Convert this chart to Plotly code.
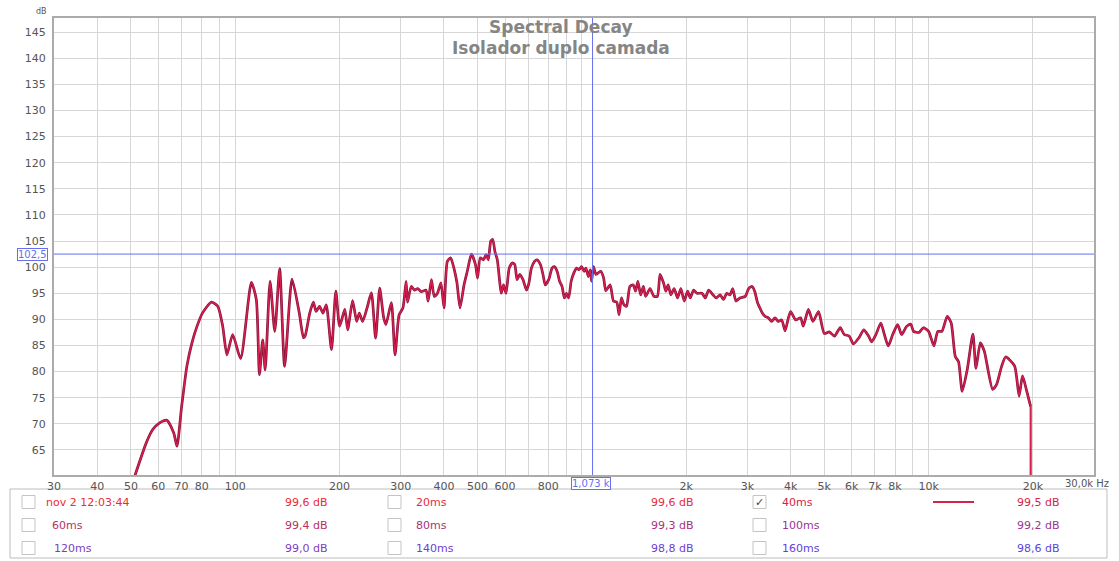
import math
import plotly.graph_objects as go

# ---------------- data ----------------
freq_hz = [
    51, 55.4, 57.8, 60.5, 63.5, 66.5, 67.9, 70, 72.5, 75,
    77.5, 80.4, 85.4, 89, 92, 94.6, 98.3, 103.6, 111.3, 115,
    117.4, 120, 122, 126, 130, 134.3, 138.8, 145.8, 153, 157.3,
    159, 164, 168, 171, 175, 179, 183, 189.5, 195, 200,
    207, 211, 218, 224, 228, 233, 240, 247, 254, 261,
    268, 272, 282, 289, 297, 304.6, 311, 314, 321.8, 329,
    336, 344, 355, 360, 368, 375, 383, 392, 400, 409,
    418, 427, 436, 445, 457, 467, 480, 493, 500, 509,
    520, 529, 537, 546, 553, 561, 570, 579, 585, 594,
    604, 617, 630, 640, 650, 662, 676, 692, 703, 715,
    730, 742, 759, 772, 784, 802, 820, 833, 848, 862,
    876, 890, 902, 916, 931, 948, 965, 980, 997, 1015,
    1027, 1043, 1057, 1066, 1080, 1097, 1114, 1134, 1155, 1172,
    1206, 1233, 1260, 1280, 1300, 1321, 1345, 1375, 1406, 1428,
    1450, 1477, 1504, 1527, 1572, 1614, 1651, 1680, 1719, 1746,
    1773, 1805, 1845, 1887, 1929, 1973, 2018, 2054, 2099, 2146,
    2220, 2269, 2320, 2388, 2441, 2503, 2560, 2616, 2675, 2722,
    2783, 2857, 2960, 3026, 3097, 3150, 3210, 3260, 3314, 3373,
    3449, 3526, 3605, 3686, 3769, 3855, 3941, 4000, 4135, 4273,
    4350, 4500, 4639, 4814, 5000, 5170, 5350, 5560, 5710, 5900,
    6070, 6300, 6500, 6700, 6850, 7050, 7280, 7440, 7650, 7880,
    8140, 8360, 8630, 8880, 9050, 9380, 9660, 10000, 10360, 10630,
    10920, 11320, 11620, 11940, 12200, 12500, 12920, 13420, 13700, 14100,
    14480, 15300, 15700, 16240, 16680, 17700, 18240, 18660, 19200, 19700,
]
level_db = [
    59.5, 66.4, 68.9, 70.2, 70.7, 68.2, 65.7, 73.2, 81.0, 85.5,
    88.6, 91.2, 93.3, 92.5, 88.7, 83.2, 87.1, 82.5, 97.1, 93.8,
    79.4, 86.1, 80.3, 97.3, 87.7, 99.7, 81.0, 97.7, 91.2, 86.5,
    86.8, 91.2, 93.3, 91.5, 92.5, 91.2, 92.8, 84.2, 95.4, 88.7,
    91.9, 88.0, 93.6, 89.6, 91.2, 89.6, 92.2, 95.1, 86.4, 96.0,
    90.3, 89.0, 93.2, 83.2, 90.9, 92.2, 97.3, 93.3, 96.3, 95.6,
    95.9, 95.3, 95.6, 93.5, 97.6, 94.4, 95.0, 97.0, 92.2, 101.1,
    101.8, 99.9, 97.0, 92.2, 96.6, 99.2, 102.5, 100.5, 97.9, 101.8,
    101.4, 102.4, 101.4, 105.0, 105.3, 103.0, 101.4, 97.3, 95.0, 96.6,
    95.0, 99.8, 100.8, 100.5, 97.6, 98.6, 97.6, 95.6, 96.9, 99.8,
    101.1, 101.4, 100.5, 98.6, 96.6, 97.6, 99.8, 100.1, 99.2, 97.3,
    96.3, 94.1, 95.0, 94.1, 97.3, 98.9, 99.8, 99.5, 100.1, 99.2,
    99.8, 98.2, 99.5, 97.3, 100.1, 98.6, 98.9, 99.2, 97.9, 95.5,
    96.6, 93.5, 93.3, 90.9, 94.1, 92.8, 92.5, 96.3, 96.6, 95.4,
    97.3, 94.7, 96.3, 94.4, 95.9, 94.4, 94.4, 98.6, 97.0, 95.4,
    96.6, 94.7, 95.9, 94.1, 95.9, 93.5, 95.4, 94.1, 95.6, 95.0,
    95.0, 94.1, 95.6, 94.7, 94.1, 94.7, 93.8, 95.0, 94.7, 95.9,
    93.5, 94.1, 94.4, 95.9, 96.3, 95.4, 93.2, 92.2, 91.2, 90.6,
    90.3, 89.6, 90.3, 89.6, 89.9, 87.8, 90.3, 91.5, 89.9, 90.3,
    88.7, 91.9, 89.6, 91.5, 87.3, 87.6, 86.8, 88.4, 87.1, 86.8,
    85.3, 86.5, 88.0, 86.9, 85.7, 87.1, 89.3, 87.3, 84.9, 87.1,
    89.0, 87.1, 88.6, 89.1, 87.7, 87.5, 88.4, 87.7, 84.9, 87.7,
    87.7, 90.6, 89.3, 82.9, 81.9, 76.2, 80.3, 87.2, 80.6, 85.5,
    83.9, 76.6, 77.5, 81.0, 82.8, 81.1, 75.3, 79.2, 76.2, 73.3,
]
drop_freq_hz = [19700, 19700]
drop_db = [73.3, 40.0]

cursor_freq_hz = 1073
cursor_db = 102.5

x_tick_vals = [30, 40, 50, 60, 70, 80, 90, 100, 200, 300, 400, 500, 600, 700, 800, 900,
               1000, 2000, 3000, 4000, 5000, 6000, 7000, 8000, 9000, 10000, 20000, 30000]
x_tick_text = ["30", "40", "50", "60", "70", "80", "", "100", "200", "300", "400", "500", "600", "", "800", "",
               "", "2k", "3k", "4k", "5k", "6k", "7k", "8k", "", "10k", "20k", ""]
y_tick_vals = [65, 70, 75, 80, 85, 90, 95, 100, 105, 110, 115, 120, 125, 130, 135, 140, 145]

legend_labels = ["nov 2 12:03:44", "20ms", "40ms",
                 "60ms", "80ms", "100ms",
                 "120ms", "140ms", "160ms"]
legend_values = ["99,6 dB", "99,6 dB", "99,5 dB",
                 "99,4 dB", "99,3 dB", "99,2 dB",
                 "99,0 dB", "98,8 dB", "98,6 dB"]
legend_colors = ["#ee2a30", "#e52a3c", "#d62448",
                 "#b8305e", "#a8327c", "#9a3496",
                 "#803cc2", "#7040d2", "#6042e0"]
legend_checked = [False, False, True, False, False, False, False, False, False]

title_lines = ["Spectral Decay", "Isolador duplo camada"]

# ---------------- layout helpers (pixel -> paper) ----------------
W, H = 1119, 561
L, R, T, B = 54, 25, 18, 86
PW, PH = W - L - R, H - T - B


def px(x):
    return (x - L) / PW


def py(y):
    return (H - B - y) / PH


CURVE = "#d8204f"
CURVE_EDGE = "#86113a"
CURSOR = "#6670ee"
FONT = "DejaVu Sans"

fig = go.Figure()
fig.add_trace(go.Scatter(x=freq_hz, y=level_db, mode="lines",
                         line=dict(color=CURVE_EDGE, width=2.7, shape="spline", smoothing=0.6),
                         hoverinfo="skip", showlegend=False))
fig.add_trace(go.Scatter(x=freq_hz, y=level_db, mode="lines",
                         line=dict(color=CURVE, width=1.4, shape="spline", smoothing=0.6),
                         showlegend=False))
fig.add_trace(go.Scatter(x=drop_freq_hz, y=drop_db, mode="lines",
                         line=dict(color=CURVE, width=2.2), showlegend=False))
fig.add_trace(go.Scatter(x=[cursor_freq_hz, cursor_freq_hz], y=[55, 150], mode="lines",
                         line=dict(color=CURSOR, width=1), showlegend=False, hoverinfo="skip"))
fig.add_trace(go.Scatter(x=[25, 40000], y=[cursor_db, cursor_db], mode="lines",
                         line=dict(color=CURSOR, width=1), showlegend=False, hoverinfo="skip"))

fig.update_xaxes(type="log", range=[math.log10(30), math.log10(30000)],
                 tickvals=x_tick_vals, ticktext=x_tick_text,
                 showgrid=True, gridcolor="#d6d6d6", gridwidth=1,
                 showline=True, linecolor="#ababab", linewidth=2, mirror=True,
                 ticks="", tickfont=dict(family=FONT, size=11, color="#555555"),
                 zeroline=False)
fig.update_yaxes(range=[60.2, 147.7], tickvals=y_tick_vals,
                 showgrid=True, gridcolor="#d6d6d6", gridwidth=1,
                 showline=True, linecolor="#ababab", linewidth=2, mirror=True,
                 ticks="", tickfont=dict(family=FONT, size=11, color="#555555"),
                 ticklabelstandoff=4, zeroline=False)


def text(t, x, y, size, color, xanchor="center", **kw):
    return dict(text=t, x=px(x), y=py(y), xref="paper", yref="paper",
                xanchor=xanchor, yanchor="middle", showarrow=False,
                font=dict(family=FONT, size=size, color=color), **kw)


ann = []
shapes = []
ann.append(text("<b>" + title_lines[0] + "</b>", 561, 27, 17, "#858585"))
ann.append(text("<b>" + title_lines[1] + "</b>", 561, 47.5, 17, "#858585"))
ann.append(text("dB", 41, 12, 8, "#555555"))
ann.append(text("30,0k Hz", 1087, 483, 10, "#555555"))
ann.append(text("102,5", 32, 254.5, 10, CURSOR,
                bordercolor=CURSOR, borderwidth=1, borderpad=0, bgcolor="white"))
ann.append(text("1,073 k", 591, 483.5, 10, CURSOR,
                bordercolor=CURSOR, borderwidth=1, borderpad=0, bgcolor="white"))

shapes.append(dict(type="rect", xref="paper", yref="paper",
                   x0=px(10), x1=px(1107), y0=py(489), y1=py(558),
                   line=dict(color="#bdbdbd", width=1), fillcolor="white", layer="below"))
row_y = [502, 525, 548]
col_box = [22, 388, 753]
col_label = [[44, 414, 780], [50, 414, 780], [52, 414, 780]]
col_value_right = [330, 696, 1062]
for i, (lab, val, col, chk) in enumerate(zip(legend_labels, legend_values, legend_colors, legend_checked)):
    r, c = divmod(i, 3)
    yy = row_y[r]
    shapes.append(dict(type="rect", xref="paper", yref="paper",
                       x0=px(col_box[c]), x1=px(col_box[c] + 13),
                       y0=py(yy + 6.5), y1=py(yy - 6.5),
                       line=dict(color="#c4c4c4", width=1), fillcolor="white"))
    if chk:
        ann.append(text("✓", col_box[c] + 6.5, yy, 11, "#444444"))
        shapes.append(dict(type="line", xref="paper", yref="paper",
                           x0=px(933), x1=px(974), y0=py(yy), y1=py(yy),
                           line=dict(color=col, width=2)))
    ann.append(text(lab, col_label[r][c], yy, 11, col, xanchor="left"))
    ann.append(text(val, col_value_right[c], yy, 11, col, xanchor="right"))

fig.update_layout(width=W, height=H, margin=dict(l=L, r=R, t=T, b=B),
                  paper_bgcolor="white", plot_bgcolor="white",
                  showlegend=False, annotations=ann, shapes=shapes,
                  font=dict(family=FONT))

fig.write_html("out.html", config={"displayModeBar": False},
               post_script="document.body.style.margin='0';document.body.style.overflow='hidden';")
